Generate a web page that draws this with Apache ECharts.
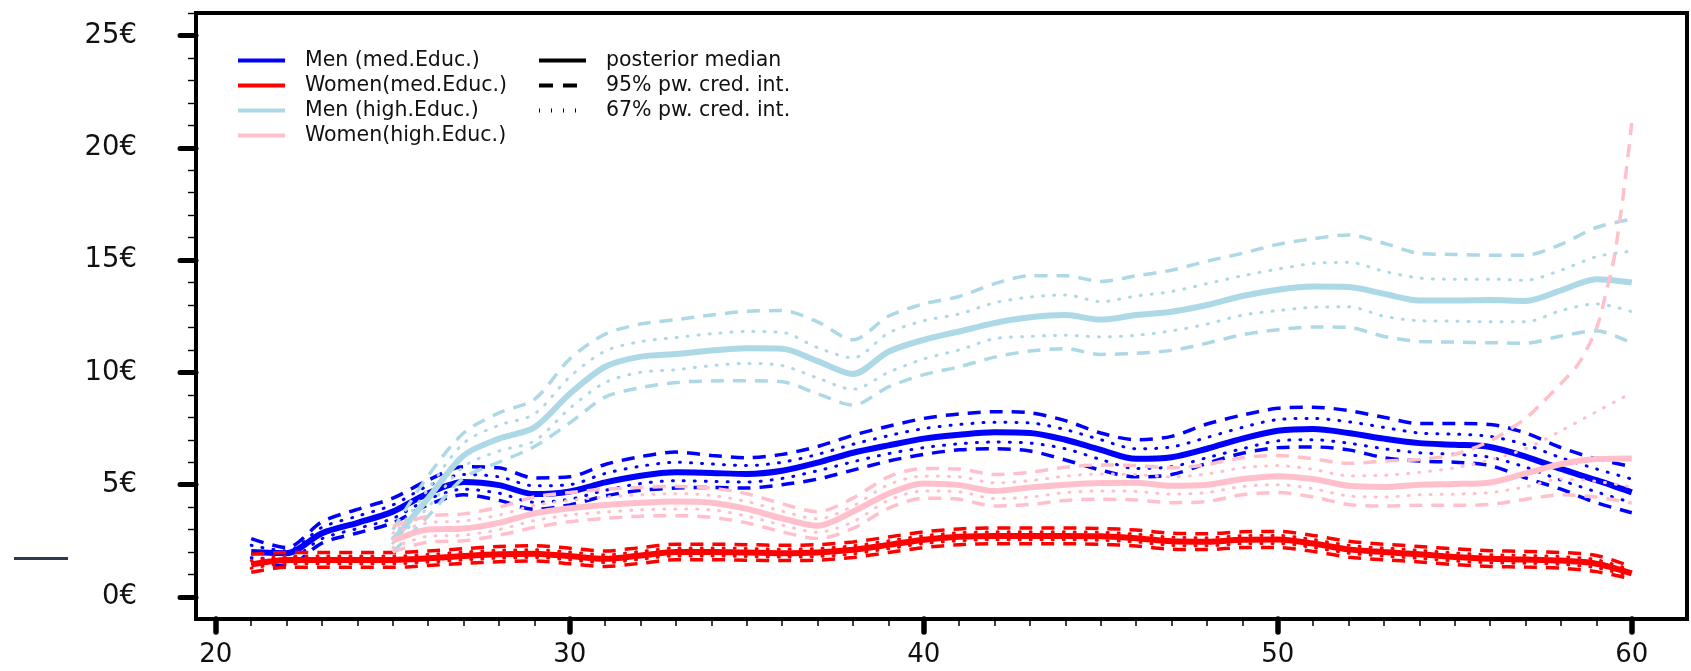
<!DOCTYPE html>
<html>
<head>
<meta charset="utf-8">
<script src="https://cdn.jsdelivr.net/npm/echarts@6/dist/echarts.min.js"></script>
<style>
  html, body { margin: 0; padding: 0; background: #fff; }
  #chart { width: 1691px; height: 671px; }
</style>
</head>
<body>
<div id="chart"></div>
<script>
// ages (x)
const agesMed = [21, 22, 23, 24, 25, 26, 27, 28, 29, 30, 31, 32, 33, 34, 35, 36, 37, 38, 39, 40,
  41, 42, 43, 44, 45, 46, 47, 48, 49, 50, 51, 52, 53, 54, 55, 56, 57, 58, 59, 60];
const agesHigh = [25, 26, 27, 28, 29, 30, 31, 32, 33, 34, 35, 36, 37, 38, 39, 40,
  41, 42, 43, 44, 45, 46, 47, 48, 49, 50, 51, 52, 53, 54, 55, 56, 57, 58, 59, 60];
const agesPinkUp = [25, 26, 27, 28, 29, 30, 31, 32, 33, 34, 35, 36, 37, 38, 39, 40,
  41, 42, 43, 44, 45, 46, 47, 48, 49, 50, 51, 52, 53, 54, 55, 56, 57,
  57.5, 58, 58.5, 59, 59.25, 59.5, 59.75, 60];

// Men (med.Educ.)
const menMedMedian = [2.0, 1.95, 2.84, 3.3, 3.8, 4.62, 5.12, 4.98, 4.58, 4.7,
  5.1, 5.4, 5.55, 5.52, 5.48, 5.62, 5.98, 6.42, 6.75, 7.05,
  7.22, 7.33, 7.3, 7.0, 6.55, 6.15, 6.22, 6.6, 7.05, 7.4,
  7.48, 7.3, 7.05, 6.85, 6.78, 6.68, 6.25, 5.7, 5.2, 4.66];
const menMedUp95 = [2.6, 2.2, 3.35, 3.9, 4.4, 5.2, 5.8, 5.75, 5.3, 5.35,
  5.9, 6.25, 6.45, 6.3, 6.2, 6.35, 6.7, 7.2, 7.6, 7.95,
  8.15, 8.25, 8.2, 7.85, 7.3, 7.0, 7.15, 7.7, 8.1, 8.4,
  8.45, 8.3, 8.0, 7.72, 7.72, 7.68, 7.3, 6.65, 6.15, 5.8];
const menMedLo95 = [1.5, 1.4, 2.4, 2.85, 3.3, 4.1, 4.55, 4.3, 3.9, 4.1,
  4.5, 4.75, 4.85, 4.88, 4.85, 5.0, 5.25, 5.65, 6.05, 6.35,
  6.55, 6.6, 6.5, 6.1, 5.65, 5.35, 5.45, 5.95, 6.4, 6.65,
  6.68, 6.55, 6.2, 6.05, 6.0, 5.85, 5.3, 4.8, 4.2, 3.75];
const menMedUp67 = [2.3, 2.05, 3.1, 3.6, 4.1, 4.95, 5.45, 5.35, 4.95, 5.0,
  5.5, 5.82, 6.0, 5.92, 5.85, 6.0, 6.35, 6.8, 7.18, 7.5,
  7.68, 7.78, 7.75, 7.45, 7.0, 6.6, 6.68, 7.1, 7.55, 7.9,
  7.95, 7.8, 7.55, 7.3, 7.25, 7.15, 6.78, 6.2, 5.7, 5.25];
const menMedLo67 = [1.75, 1.68, 2.6, 3.05, 3.5, 4.35, 4.8, 4.62, 4.22, 4.35,
  4.75, 5.05, 5.18, 5.15, 5.12, 5.28, 5.62, 6.02, 6.38, 6.65,
  6.82, 6.9, 6.85, 6.6, 6.12, 5.72, 5.8, 6.2, 6.6, 6.95,
  7.0, 6.85, 6.6, 6.42, 6.35, 6.22, 5.78, 5.2, 4.68, 4.2];

// Women(med.Educ.)
const womMedMedian = [1.45, 1.65, 1.65, 1.65, 1.65, 1.72, 1.82, 1.9, 1.93, 1.82,
  1.7, 1.85, 2.0, 2.0, 1.98, 1.95, 1.98, 2.1, 2.32, 2.55,
  2.68, 2.72, 2.72, 2.72, 2.7, 2.62, 2.48, 2.46, 2.55, 2.56,
  2.38, 2.12, 2.0, 1.9, 1.78, 1.7, 1.67, 1.62, 1.48, 1.05];
const womMedUp95 = [1.9, 1.98, 1.98, 1.98, 1.98, 2.05, 2.15, 2.25, 2.28, 2.17,
  2.05, 2.2, 2.35, 2.35, 2.33, 2.3, 2.33, 2.45, 2.67, 2.9,
  3.03, 3.07, 3.07, 3.07, 3.05, 2.98, 2.84, 2.82, 2.9, 2.92,
  2.74, 2.48, 2.35, 2.25, 2.14, 2.06, 2.03, 1.98, 1.85, 1.35];
const womMedLo95 = [1.1, 1.32, 1.32, 1.32, 1.32, 1.4, 1.5, 1.57, 1.6, 1.48,
  1.36, 1.5, 1.66, 1.66, 1.64, 1.62, 1.64, 1.76, 1.98, 2.2,
  2.33, 2.37, 2.37, 2.37, 2.35, 2.27, 2.13, 2.11, 2.2, 2.2,
  2.03, 1.77, 1.66, 1.56, 1.44, 1.36, 1.33, 1.28, 1.13, 0.8];
const womMedUp67 = [1.62, 1.82, 1.82, 1.82, 1.82, 1.9, 2.0, 2.08, 2.1, 2.0,
  1.88, 2.03, 2.18, 2.18, 2.16, 2.13, 2.16, 2.28, 2.5, 2.73,
  2.86, 2.9, 2.9, 2.9, 2.88, 2.8, 2.66, 2.64, 2.73, 2.74,
  2.56, 2.3, 2.18, 2.08, 1.96, 1.88, 1.85, 1.8, 1.66, 1.2];
const womMedLo67 = [1.28, 1.48, 1.48, 1.48, 1.48, 1.55, 1.65, 1.73, 1.76, 1.65,
  1.53, 1.68, 1.83, 1.83, 1.8, 1.78, 1.8, 1.92, 2.15, 2.38,
  2.5, 2.55, 2.55, 2.55, 2.52, 2.45, 2.3, 2.28, 2.37, 2.38,
  2.2, 1.95, 1.82, 1.72, 1.6, 1.52, 1.5, 1.45, 1.3, 0.9];

// Men (high.Educ.)
const menHighMedian = [2.5, 4.4, 6.3, 7.05, 7.55, 9.05,
  10.25, 10.7, 10.82, 10.97, 11.07, 11.05, 10.5, 9.93, 10.92, 11.45,
  11.82, 12.2, 12.45, 12.55, 12.35, 12.55, 12.7, 13.0, 13.4, 13.68,
  13.82, 13.8, 13.5, 13.2, 13.2, 13.22, 13.18, 13.65, 14.15, 14.0];
const menHighUp95 = [3.0, 5.4, 7.3, 8.2, 8.8, 10.6,
  11.7, 12.15, 12.35, 12.55, 12.72, 12.75, 12.25, 11.45, 12.5, 13.05,
  13.38, 13.95, 14.3, 14.3, 14.05, 14.3, 14.55, 14.95, 15.3, 15.7,
  15.95, 16.12, 15.75, 15.3, 15.25, 15.22, 15.22, 15.7, 16.45, 16.82];
const menHighLo95 = [2.0, 3.6, 5.3, 6.0, 6.7, 7.75,
  8.9, 9.32, 9.55, 9.62, 9.63, 9.58, 9.05, 8.55, 9.35, 9.9,
  10.25, 10.68, 10.95, 11.05, 10.8, 10.85, 10.98, 11.3, 11.68, 11.9,
  12.02, 12.0, 11.6, 11.38, 11.35, 11.32, 11.3, 11.62, 11.85, 11.3];
const menHighUp67 = [2.65, 4.8, 6.85, 7.65, 8.15, 9.8,
  10.95, 11.37, 11.55, 11.72, 11.82, 11.78, 11.1, 10.65, 11.75, 12.3,
  12.6, 13.1, 13.35, 13.45, 13.15, 13.4, 13.6, 13.95, 14.3, 14.6,
  14.85, 14.9, 14.5, 14.2, 14.15, 14.15, 14.1, 14.55, 15.15, 15.4];
const menHighLo67 = [2.4, 4.0, 5.8, 6.5, 6.95, 8.4,
  9.55, 10.0, 10.12, 10.3, 10.4, 10.3, 9.75, 9.25, 10.0, 10.6,
  11.0, 11.5, 11.6, 11.65, 11.58, 11.65, 11.85, 12.15, 12.55, 12.75,
  12.9, 12.92, 12.5, 12.3, 12.28, 12.25, 12.25, 12.75, 13.05, 12.7];

// Women(high.Educ.)
const womHighMedian = [2.5, 3.0, 3.05, 3.3, 3.72, 3.95,
  4.1, 4.2, 4.25, 4.2, 3.92, 3.5, 3.17, 3.8, 4.6, 5.05,
  4.98, 4.72, 4.88, 5.0, 5.08, 5.09, 4.95, 5.0, 5.25, 5.38,
  5.25, 4.95, 4.9, 5.0, 5.03, 5.1, 5.5, 5.92, 6.14, 6.17];
const womHighUp95 = [3.15, 3.6, 3.7, 4.0, 4.45, 4.65,
  4.8, 4.88, 4.92, 4.85, 4.6, 4.15, 3.8, 4.4, 5.35, 5.72,
  5.7, 5.45, 5.55, 5.78, 5.88, 5.85, 5.75, 5.9, 6.2, 6.3,
  6.15, 5.95, 6.05, 6.12, 6.35, 6.95, 7.95,
  8.7, 9.5, 10.4, 11.95, 13.4, 15.1, 17.8, 21.1];
const womHighLo95 = [2.0, 2.45, 2.5, 2.75, 3.1, 3.35,
  3.5, 3.6, 3.62, 3.55, 3.3, 2.9, 2.6, 3.05, 3.95, 4.4,
  4.35, 4.05, 4.12, 4.3, 4.35, 4.32, 4.2, 4.25, 4.55, 4.65,
  4.45, 4.12, 4.05, 4.08, 4.08, 4.12, 4.35, 4.55, 4.45, 4.18];
const womHighUp67 = [2.85, 3.3, 3.38, 3.65, 4.08, 4.3,
  4.45, 4.55, 4.6, 4.52, 4.25, 3.82, 3.48, 4.05, 5.0, 5.38,
  5.35, 5.08, 5.18, 5.38, 5.48, 5.45, 5.35, 5.48, 5.75, 5.85,
  5.68, 5.4, 5.42, 5.55, 5.75, 6.1, 6.6, 7.4, 8.25, 9.1];
const womHighLo67 = [2.2, 2.7, 2.75, 3.0, 3.4, 3.65,
  3.78, 3.88, 3.92, 3.88, 3.6, 3.2, 2.88, 3.35, 4.3, 4.72,
  4.68, 4.38, 4.45, 4.65, 4.72, 4.7, 4.58, 4.65, 4.92, 5.0,
  4.82, 4.5, 4.45, 4.55, 4.58, 4.65, 4.9, 5.25, 5.15, 4.9];

// axis ticks
const xMajor = [20, 30, 40, 50, 60];
const xMinor = [21, 22, 23, 24, 25, 26, 27, 28, 29, 31, 32, 33, 34, 35, 36, 37, 38, 39,
  41, 42, 43, 44, 45, 46, 47, 48, 49, 51, 52, 53, 54, 55, 56, 57, 58, 59];
const yMajor = [0, 5, 10, 15, 20, 25];
const yMinor = [1, 2, 3, 4, 6, 7, 8, 9, 11, 12, 13, 14, 16, 17, 18, 19, 21, 22, 23, 24, 26];

const groupNames = ["Men (med.Educ.)", "Women(med.Educ.)", "Men (high.Educ.)", "Women(high.Educ.)"];
const keyNames = ["posterior median", "95% pw. cred. int.", "67% pw. cred. int."];

const FONT = '"DejaVu Sans", "Liberation Sans", Arial, sans-serif';
const DASH = [13, 9];
const DOT = [1, 10];

const chart = echarts.init(document.getElementById("chart"));

// one curve
const curve = (name, ages, vals, color, width, type, z) => ({
  name: name,
  type: "line",
  data: ages.map((a, i) => [a, vals[i]]),
  symbol: "none",
  showSymbol: false,
  smooth: 0.3,
  silent: true,
  z: z,
  itemStyle: { color: color },
  lineStyle: { color: color, width: width, type: type, cap: type === DOT ? "round" : "butt" },
  emphasis: { disabled: true }
});

// median first so the legend picks the solid style
const group = (name, ages, med, up95, lo95, up67, lo67, color, z, upAges) => [
  curve(name, ages, med, color, 6, "solid", z + 1),
  curve(name, upAges || ages, up95, color, 3.5, DASH, z),
  curve(name, ages, lo95, color, 3.5, DASH, z),
  curve(name, ages, up67, color, 3, DOT, z),
  curve(name, ages, lo67, color, 3, DOT, z)
];

const series = [].concat(
  group(groupNames[0], agesMed, menMedMedian, menMedUp95, menMedLo95, menMedUp67, menMedLo67, "#0000ff", 2),
  group(groupNames[1], agesMed, womMedMedian, womMedUp95, womMedLo95, womMedUp67, womMedLo67, "#ff0000", 4),
  group(groupNames[2], agesHigh, menHighMedian, menHighUp95, menHighLo95, menHighUp67, menHighLo67, "#add8e6", 6),
  group(groupNames[3], agesHigh, womHighMedian, womHighUp95, womHighLo95, womHighUp67, womHighLo67, "#ffc0cb", 8, agesPinkUp),
  [
    curve(keyNames[0], [], [], "#000", 4, "solid", 1),
    curve(keyNames[1], [], [], "#000", 4, [14, 10], 1),
    curve(keyNames[2], [], [], "#000", 4, [1, 11], 1)
  ]
);

const legendBase = {
  orient: "vertical",
  top: 50,
  padding: 0,
  itemWidth: 47,
  itemHeight: 20,
  itemGap: 4,
  selectedMode: false,
  itemStyle: { opacity: 0 },
  lineStyle: { width: 4 },
  textStyle: { fontSize: 20.5, fontFamily: FONT, color: "#111", lineHeight: 20, padding: [0, 0, 0, 15] }
};

const xBase = {
  type: "value",
  min: 19.44,
  max: 61.56,
  position: "bottom",
  splitLine: { show: false }
};
const yBase = {
  type: "value",
  min: -0.98,
  max: 26,
  position: "left",
  splitLine: { show: false }
};

const option = {
  animation: false,
  backgroundColor: "#fff",
  grid: {
    left: 196, right: 4, top: 13, bottom: 52,
    show: true, borderColor: "#000", borderWidth: 4,
    outerBoundsMode: "none"
  },
  legend: [
    Object.assign({}, legendBase, { left: 236, data: groupNames }),
    Object.assign({}, legendBase, { left: 537, data: keyNames })
  ],
  xAxis: [
    Object.assign({}, xBase, {
      axisLine: { show: true, onZero: false, lineStyle: { color: "#000", width: 4 } },
      axisTick: { show: true, customValues: xMajor, length: 13, lineStyle: { color: "#000", width: 5.5, cap: "round" } },
      axisLabel: { show: true, customValues: xMajor, fontSize: 26, fontFamily: FONT, color: "#111", margin: 23 }
    }),
    Object.assign({}, xBase, {
      axisLine: { show: false, onZero: false },
      axisTick: { show: true, customValues: xMinor, length: 7, lineStyle: { color: "#000", width: 1.5 } },
      axisLabel: { show: false }
    })
  ],
  yAxis: [
    Object.assign({}, yBase, {
      axisLine: { show: true, onZero: false, lineStyle: { color: "#000", width: 4 } },
      axisTick: { show: true, customValues: yMajor, length: 16, lineStyle: { color: "#000", width: 5, cap: "round" } },
      axisLabel: { show: true, customValues: yMajor, formatter: "{value}€", fontSize: 27.5, fontFamily: FONT, color: "#111", margin: 59 }
    }),
    Object.assign({}, yBase, {
      axisLine: { show: false, onZero: false },
      axisTick: { show: true, customValues: yMinor, length: 8, lineStyle: { color: "#000", width: 1.4 } },
      axisLabel: { show: false }
    })
  ],
  graphic: [
    {
      type: "line",
      shape: { x1: 14, y1: 558.5, x2: 68, y2: 558.5 },
      style: { stroke: "#2b3a4e", lineWidth: 3 },
      silent: true
    }
  ],
  series: series
};

chart.setOption(option);
window.addEventListener("resize", () => chart.resize());
</script>
</body>
</html>
